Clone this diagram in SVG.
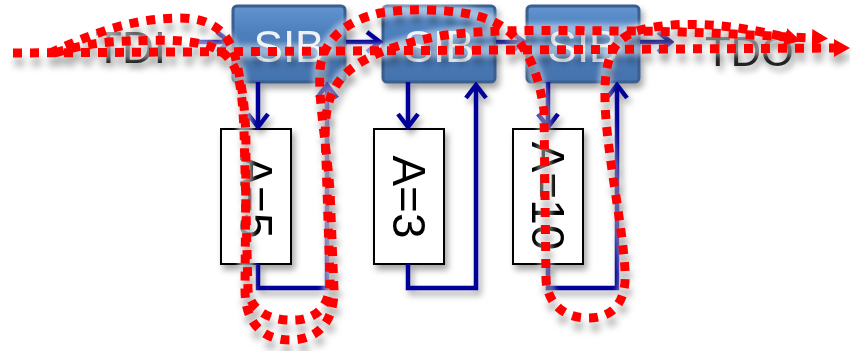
<svg xmlns="http://www.w3.org/2000/svg" width="850" height="351" viewBox="0 0 850 351">
  <style>
    .sib-box { fill: url(#sibFill); stroke: #3a5f8f; stroke-width: 3; }
    .sib-label { font-family: "Liberation Sans", Arial, sans-serif; font-size: 44px; fill: #eef1f5; text-anchor: middle; }
    .port { font-family: "Liberation Sans", Arial, sans-serif; font-size: 44px; fill: url(#portFill); }
    .seg-box { fill: #ffffff; stroke: #000000; stroke-width: 2; }
    .seg-label { font-family: "Liberation Sans", Arial, sans-serif; font-size: 46px; fill: #000000; text-anchor: middle; }
    .wire { fill: none; stroke: #000099; stroke-width: 4.5; stroke-linejoin: miter; }
    .scan { fill: none; stroke: #ff0000; stroke-width: 9; stroke-dasharray: 9 8; }
    .haze { fill: none; stroke: #ffffff; stroke-width: 14; stroke-opacity: 0.45; }
  </style>
  <defs>
    <linearGradient id="sibFill" x1="0" y1="0" x2="0" y2="1">
      <stop offset="0" stop-color="#6194d0"/>
      <stop offset="0.35" stop-color="#4d7fbd"/>
      <stop offset="1" stop-color="#4472ad"/>
    </linearGradient>
    <linearGradient id="portFill" x1="0" y1="0" x2="0" y2="1">
      <stop offset="0" stop-color="#606060"/>
      <stop offset="1" stop-color="#101010"/>
    </linearGradient>
    <filter id="shadow" x="-20%" y="-20%" width="150%" height="160%">
      <feGaussianBlur in="SourceAlpha" stdDeviation="3"/>
      <feOffset dx="3" dy="5" result="b"/>
      <feFlood flood-color="#000000" flood-opacity="0.35"/>
      <feComposite in2="b" operator="in" result="s"/>
      <feMerge><feMergeNode in="s"/><feMergeNode in="SourceGraphic"/></feMerge>
    </filter>
    <filter id="scanShadow" x="-5%" y="-20%" width="110%" height="150%">
      <feGaussianBlur in="SourceAlpha" stdDeviation="3.5"/>
      <feOffset dx="2" dy="9" result="b"/>
      <feFlood flood-color="#000000" flood-opacity="0.3"/>
      <feComposite in2="b" operator="in" result="s"/>
      <feMerge><feMergeNode in="s"/><feMergeNode in="SourceGraphic"/></feMerge>
    </filter>
    <filter id="soft" x="-5%" y="-10%" width="110%" height="120%">
      <feGaussianBlur stdDeviation="2.5"/>
    </filter>
    <marker id="chev" markerUnits="userSpaceOnUse" markerWidth="20" markerHeight="26" viewBox="-16 -13 18 26" refX="0" refY="0" orient="auto">
      <path d="M-13,-10 L0,0 L-13,10" fill="none" stroke="#000099" stroke-width="4.5"/>
    </marker>
    <marker id="redHead" markerUnits="userSpaceOnUse" markerWidth="20" markerHeight="22" viewBox="0 -11 20 22" refX="0" refY="0" orient="auto">
      <path d="M0,-9 L16,0 L0,9 Z" fill="#ff0000"/>
    </marker>
  </defs>

  <rect width="850" height="351" fill="#ffffff"/>

  <!-- port labels -->
  <g id="tdi" filter="url(#shadow)">
    <text class="port" x="95" y="63">TDI</text>
  </g>
  <g id="tdo" filter="url(#shadow)">
    <text class="port" x="705" y="66" style="font-size:42px">TDO</text>
  </g>

  <!-- segment boxes -->
  <g id="seg5" filter="url(#shadow)">
    <rect class="seg-box" x="221" y="129" width="70" height="135"/>
    <text class="seg-label" transform="translate(256,197) rotate(90)" y="16">A=5</text>
  </g>
  <g id="seg3" filter="url(#shadow)">
    <rect class="seg-box" x="374" y="129" width="70" height="135"/>
    <text class="seg-label" transform="translate(409,197) rotate(90)" y="16">A=3</text>
  </g>
  <g id="seg10" filter="url(#shadow)">
    <rect class="seg-box" x="513" y="129" width="70" height="135"/>
    <text class="seg-label" transform="translate(548,196) rotate(90)" y="16">A=10</text>
  </g>

  <!-- SIB cells -->
  <g id="sib1" filter="url(#shadow)">
    <rect class="sib-box" x="233" y="6" width="112" height="76" rx="4"/>
    <text class="sib-label" x="289" y="62">SIB</text>
  </g>
  <g id="sib2" filter="url(#shadow)">
    <rect class="sib-box" x="383" y="6" width="112" height="76" rx="4"/>
    <text class="sib-label" x="439" y="62">SIB</text>
  </g>
  <g id="sib3" filter="url(#shadow)">
    <rect class="sib-box" x="527" y="6" width="112" height="76" rx="4"/>
    <text class="sib-label" x="583" y="62">SIB</text>
  </g>

  <!-- scan chain wiring -->
  <g id="connectors" filter="url(#shadow)">
    <path class="wire" d="M198,42 H230" marker-end="url(#chev)"/>
    <path class="wire" d="M346,42 H380" marker-end="url(#chev)"/>
    <path class="wire" d="M496,42 H524" marker-end="url(#chev)"/>
    <path class="wire" d="M640,42 H671" marker-end="url(#chev)"/>

    <path class="wire" d="M258,82 V127" marker-end="url(#chev)"/>
    <path class="wire" d="M408,82 V127" marker-end="url(#chev)"/>
    <path class="wire" d="M548,82 V127" marker-end="url(#chev)"/>

    <path class="wire" d="M258,264 V288 H327 V85" marker-end="url(#chev)"/>
    <path class="wire" d="M408,264 V288 H476 V85" marker-end="url(#chev)"/>
    <path class="wire" d="M548,264 V288 H617 V85" marker-end="url(#chev)"/>
  </g>

  <!-- highlighted scan paths -->
  <g id="scan-paths">
    <g filter="url(#soft)">
      <path class="haze" d="M13,53 L835,48"/>
      <path class="haze" d="M50,53 C90,35 130,18 180,18 C215,18 230,35 236,60 C242,85 246,110 246,150 L245,290 C245,325 265,340 290,340 C318,340 334,322 334,290 L330,190 C326,140 318,100 320,70 C322,45 340,22 380,13 C410,8 460,8 490,20 C525,35 538,70 544,110 L546,280 C548,305 565,318 588,318 C615,318 627,300 625,270 C622,220 606,150 605,100 C604,60 612,38 640,30 C680,20 730,24 786,37"/>
      <path class="haze" d="M55,53 C80,45 100,42 130,41 C160,40 200,38 222,52 C240,65 242,90 244,130 L248,290 C250,310 270,322 297,320 C318,318 330,305 330,280 L326,160 C324,120 325,100 340,80 C355,60 390,45 440,36 C480,30 520,30 620,31 C700,31 760,36 813,38"/>
    </g>
    <g filter="url(#scanShadow)">
      <path class="scan" d="M13,53 L834,48" marker-end="url(#redHead)"/>
      <path class="scan" d="M50,53 C90,35 130,18 180,18 C215,18 230,35 236,60 C242,85 246,110 246,150 L245,290 C245,325 265,340 290,340 C318,340 334,322 334,290 L330,190 C326,140 318,100 320,70 C322,45 340,22 380,13 C410,8 460,8 490,20 C525,35 538,70 544,110 L546,280 C548,305 565,318 588,318 C615,318 627,300 625,270 C622,220 606,150 605,100 C604,60 612,38 640,30 C680,20 730,24 785,37" marker-end="url(#redHead)"/>
      <path class="scan" d="M55,53 C80,45 100,42 130,41 C160,40 200,38 222,52 C240,65 242,90 244,130 L248,290 C250,310 270,322 297,320 C318,318 330,305 330,280 L326,160 C324,120 325,100 340,80 C355,60 390,45 440,36 C480,30 520,30 620,31 C700,31 760,36 812,38" marker-end="url(#redHead)"/>
    </g>
  </g>
</svg>
